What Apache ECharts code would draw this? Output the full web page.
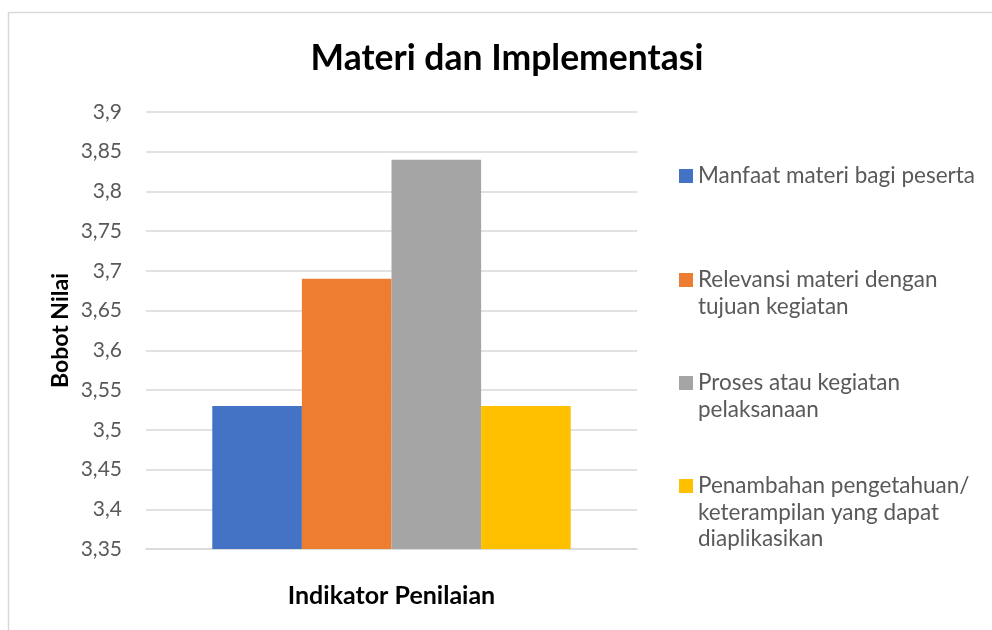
<!DOCTYPE html>
<html>
<head>
<meta charset="utf-8">
<script src="https://cdn.jsdelivr.net/npm/echarts@6/dist/echarts.min.js"></script>
<style>
html,body{margin:0;padding:0;background:#fff;}
#chart{width:992px;height:630px;}
</style>
</head>
<body>
<div id="chart"></div>
<script>
var titleText = 'Materi dan Implementasi';
var categories = ['Indikator Penilaian'];
var seriesNames = [
  'Manfaat materi bagi peserta',
  'Relevansi materi dengan tujuan kegiatan',
  'Proses atau kegiatan pelaksanaan',
  'Penambahan pengetahuan/ keterampilan yang dapat diaplikasikan'
];
var legendLines = [
  ['Manfaat materi bagi peserta'],
  ['Relevansi materi dengan', 'tujuan kegiatan'],
  ['Proses atau kegiatan', 'pelaksanaan'],
  ['Penambahan pengetahuan/', 'keterampilan yang dapat', 'diaplikasikan']
];
var seriesValues = [3.53, 3.69, 3.84, 3.53];
var colors = ['#4472C4', '#ED7D31', '#A5A5A5', '#FFC000'];
var yMin = 3.35, yMax = 3.9, yStep = 0.05;
var yAxisName = 'Bobot Nilai';

var FONT = 'Lato';
var LH = 26.5;
var iconTops = [169, 273, 376, 479];

var chart = echarts.init(document.getElementById('chart'), null, {renderer: 'canvas'});

var legends = seriesNames.map(function (name, i) {
  var n = legendLines[i].length;
  var half = (2 * n - 1) * LH / 2;
  var lines = [];
  for (var k = 0; k < n - 1; k++) lines.push(' ');
  lines = lines.concat(legendLines[i]);
  return {
    orient: 'vertical',
    left: 679,
    top: iconTops[i] + 7 - half,
    padding: 0,
    itemWidth: 14,
    itemHeight: 14,
    icon: 'rect',
    data: [name],
    formatter: function () { return lines.join('\n'); },
    textStyle: {
      fontFamily: FONT,
      fontSize: 22.5,
      color: '#595959',
      lineHeight: LH
    }
  };
});

var option = {
  animation: false,
  backgroundColor: '#ffffff',
  title: {
    text: titleText,
    left: 502,
    textAlign: 'center',
    top: 36,
    textStyle: {fontFamily: FONT, fontWeight: 'bold', fontSize: 35.5, color: '#000000'}
  },
  graphic: [{
    type: 'rect',
    shape: {x: 8.5, y: 12.5, width: 1100, height: 800},
    style: {fill: 'none', stroke: '#d9d9d9', lineWidth: 1.5},
    silent: true
  }],
  legend: legends,
  grid: {left: 146, top: 112, width: 491, height: 437, containLabel: false},
  xAxis: {
    type: 'category',
    data: categories,
    name: categories[0],
    nameLocation: 'middle',
    nameGap: 34,
    nameTextStyle: {fontFamily: FONT, fontWeight: 'bold', fontSize: 25, color: '#000000'},
    axisLabel: {show: false},
    axisTick: {show: false},
    axisLine: {show: true, lineStyle: {color: '#d9d9d9', width: 1.5}}
  },
  yAxis: {
    type: 'value',
    min: yMin,
    max: yMax,
    interval: yStep,
    name: yAxisName,
    nameLocation: 'middle',
    nameRotate: 90,
    nameGap: 74,
    nameTextStyle: {fontFamily: FONT, fontWeight: 'bold', fontSize: 23, color: '#000000'},
    axisLine: {show: false},
    axisTick: {show: false},
    axisLabel: {
      fontFamily: FONT, fontSize: 21, color: '#595959', margin: 24,
      formatter: function (v) {
        return String(Math.round(v * 100) / 100).replace('.', ',');
      }
    },
    splitLine: {lineStyle: {color: '#d9d9d9', width: 1.5}}
  },
  series: seriesNames.map(function (name, i) {
    return {
      name: name,
      type: 'bar',
      barGap: '0%',
      barCategoryGap: '27%',
      itemStyle: {color: colors[i]},
      data: [seriesValues[i]]
    };
  })
};

chart.setOption(option);
</script>
</body>
</html>
